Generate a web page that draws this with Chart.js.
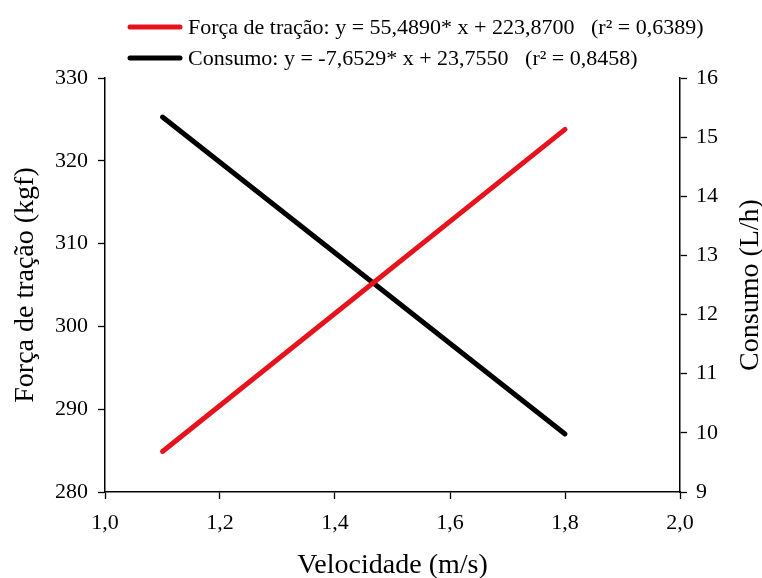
<!DOCTYPE html>
<html>
<head>
<meta charset="utf-8">
<script src="https://cdn.jsdelivr.net/npm/chart.js@4/dist/chart.umd.min.js"></script>
<style>
  html, body { margin: 0; padding: 0; background: #fff; }
  #wrap { width: 762px; height: 578px; position: relative; }
</style>
</head>
<body>
<div id="wrap"><canvas id="c" width="762" height="578"></canvas></div>
<script>
// ---- data ----
const velocidade = [1.1, 1.8];                 // m/s
const forcaTracao = [284.9, 323.8];            // kgf (left axis)
const consumo = [15.34, 9.98];                 // L/h (right axis)
const seriesLabels = [
  'Força de tração: y = 55,4890* x + 223,8700   (r² = 0,6389)',
  'Consumo: y = -7,6529* x + 23,7550   (r² = 0,8458)'
];
const xTitle = 'Velocidade (m/s)';
const yLeftTitle = 'Força de tração (kgf)';
const yRightTitle = 'Consumo (L/h)';

const FONT = "'Liberation Serif', 'Times New Roman', serif";
const RED = 'rgb(232,18,28)';
const BLACK = '#000000';
const comma = v => Number(v).toFixed(1).replace('.', ',');

const legendAndTitle = {
  id: 'legendAndTitle',
  afterDraw(chart) {
    const ctx = chart.ctx;
    ctx.save();
    // legend
    const rows = [27, 58];
    chart.data.datasets.forEach((ds, i) => {
      ctx.strokeStyle = ds.borderColor;
      ctx.lineWidth = 5;
      ctx.lineCap = 'round';
      ctx.beginPath();
      ctx.moveTo(130, rows[i]);
      ctx.lineTo(180, rows[i]);
      ctx.stroke();
      ctx.fillStyle = '#000';
      ctx.font = '22px ' + FONT;
      ctx.textBaseline = 'middle';
      ctx.textAlign = 'left';
      ctx.fillText(ds.label, 188, rows[i] + 1);
    });
    // right axis title (reads bottom to top)
    const a = chart.chartArea;
    ctx.translate(751, (a.top + a.bottom) / 2);
    ctx.rotate(-Math.PI / 2);
    ctx.font = '28px ' + FONT;
    ctx.textAlign = 'center';
    ctx.textBaseline = 'middle';
    ctx.fillStyle = '#000';
    ctx.fillText(yRightTitle, 0, 0);
    ctx.restore();
  }
};

const axisCommon = {
  grid: { drawOnChartArea: false, drawTicks: true, tickLength: 7, tickColor: '#000', tickWidth: 1.3 },
  border: { display: true, color: '#000', width: 1.5 },
};

new Chart(document.getElementById('c'), {
  type: 'line',
  data: {
    datasets: [
      {
        label: seriesLabels[0],
        data: velocidade.map((v, i) => ({ x: v, y: forcaTracao[i] })),
        borderColor: RED, backgroundColor: RED, borderWidth: 5,
        pointRadius: 0, yAxisID: 'y', borderCapStyle: 'round'
      },
      {
        label: seriesLabels[1],
        data: velocidade.map((v, i) => ({ x: v, y: consumo[i] })),
        borderColor: BLACK, backgroundColor: BLACK, borderWidth: 5,
        pointRadius: 0, yAxisID: 'y1', borderCapStyle: 'round'
      }
    ]
  },
  options: {
    responsive: false,
    animation: false,
    layout: { padding: { top: 78, left: 0, right: 0, bottom: 0 } },
    plugins: { legend: { display: false }, tooltip: { enabled: false } },
    scales: {
      x: {
        type: 'linear', min: 1.0, max: 2.0,
        ...axisCommon,
        ticks: { stepSize: 0.2, callback: comma, color: '#000', font: { family: FONT, size: 22 }, padding: 11 },
        title: { display: true, text: xTitle, color: '#000', font: { family: FONT, size: 28, lineHeight: 1 }, padding: { top: 0, bottom: -2 } },
        afterFit(s) { s.height = 86; }
      },
      y: {
        type: 'linear', position: 'left', min: 280, max: 330,
        ...axisCommon,
        ticks: { stepSize: 10, color: '#000', font: { family: FONT, size: 22 }, padding: 10 },
        title: { display: true, text: yLeftTitle, color: '#000', font: { family: FONT, size: 28, lineHeight: 1 }, padding: { top: 12, bottom: 0 } },
        afterFit(s) { s.width = 105; }
      },
      y1: {
        type: 'linear', position: 'right', min: 9, max: 16,
        ...axisCommon,
        ticks: { stepSize: 1, color: '#000', font: { family: FONT, size: 22 }, padding: 9 },
        afterFit(s) { s.width = 82; }
      }
    }
  },
  plugins: [legendAndTitle]
});
</script>
</body>
</html>
